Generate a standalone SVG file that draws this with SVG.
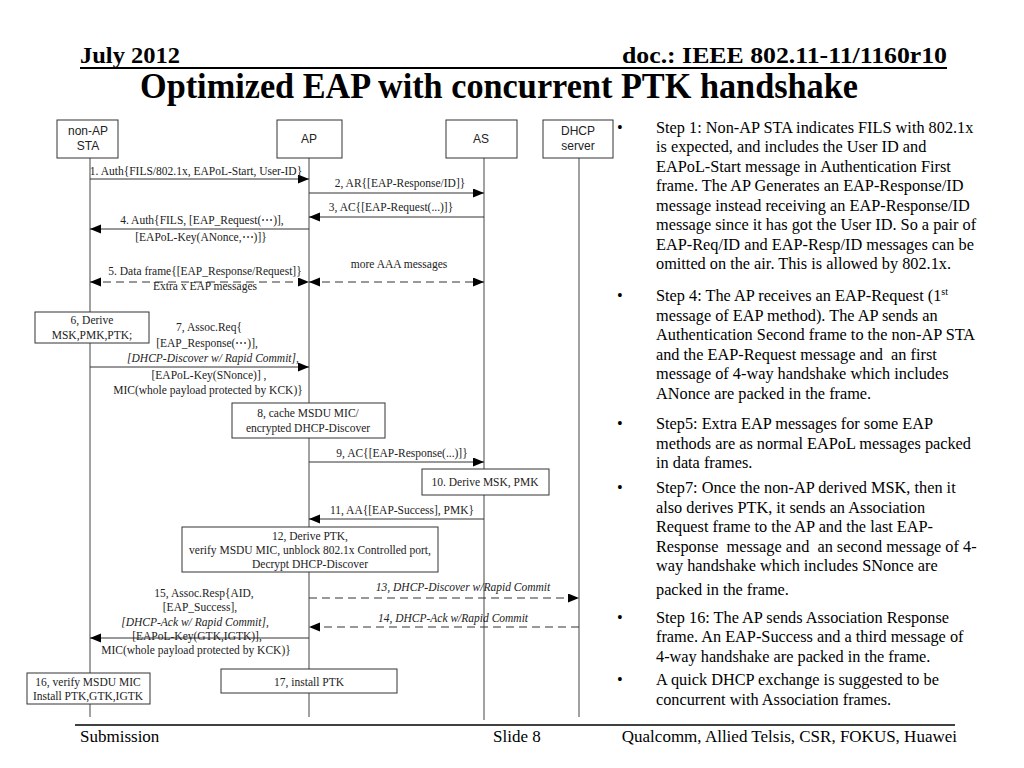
<svg xmlns="http://www.w3.org/2000/svg" width="1024" height="768" viewBox="0 0 1024 768">
<style>
.hd{font-family:"Liberation Serif",serif;font-weight:bold;fill:#000}
.ft{font-family:"Liberation Serif",serif;font-size:17px;fill:#000}
.lbl{font-family:"Liberation Serif",serif;font-size:11.5px;fill:#222;text-anchor:middle}
.it{font-style:italic}
.hdr{font-family:"Liberation Sans",Arial,sans-serif;font-size:12px;fill:#222;text-anchor:middle}
.box{fill:#fff;stroke:#333;stroke-width:1}
.life{stroke:#444;stroke-width:1}
.msg{stroke:#333;stroke-width:1;fill:none}
.dash{stroke-dasharray:8 5}
.body{font-family:"Liberation Serif",serif;font-size:16.3px;fill:#000}
</style>
<defs>
<marker id="ah" markerUnits="userSpaceOnUse" markerWidth="12" markerHeight="10" refX="11" refY="4.5" orient="auto-start-reverse">
<path d="M0,0 L11,4.5 L0,9 z" fill="#000"/>
</marker>
</defs>
<rect width="1024" height="768" fill="#fff"/>

<!-- header -->
<text class="hd" x="80" y="63" font-size="24" textLength="100" lengthAdjust="spacingAndGlyphs">July 2012</text>
<text class="hd" x="947" y="63" font-size="24" text-anchor="end" textLength="325" lengthAdjust="spacingAndGlyphs">doc.: IEEE 802.11-11/1160r10</text>
<line x1="80" y1="68" x2="947" y2="68" stroke="#000" stroke-width="2"/>
<text class="hd" x="140" y="98" font-size="35" textLength="718" lengthAdjust="spacingAndGlyphs">Optimized EAP with concurrent PTK handshake</text>

<!-- lifelines -->
<g id="lifelines">
<line class="life" x1="90" y1="158" x2="90" y2="717"/>
<line class="life" x1="309" y1="158" x2="309" y2="717"/>
<line class="life" x1="484" y1="158" x2="484" y2="720"/>
<line class="life" x1="579" y1="158" x2="579" y2="717"/>
</g>

<g id="sta"><rect class="box" x="57" y="120" width="61" height="38"/><text class="hdr" x="88" y="135">non-AP</text><text class="hdr" x="88" y="150">STA</text></g>
<g id="ap"><rect class="box" x="277" y="120" width="65" height="38"/><text class="hdr" x="309" y="143">AP</text></g>
<g id="as"><rect class="box" x="446" y="120" width="71" height="38"/><text class="hdr" x="481" y="143">AS</text></g>
<g id="dhcp"><rect class="box" x="543" y="120" width="70" height="38"/><text class="hdr" x="578" y="135">DHCP</text><text class="hdr" x="578" y="150">server</text></g>

<!-- connectors -->
<g id="connectors">
<line class="msg" x1="90" y1="179" x2="309" y2="179" marker-end="url(#ah)"/>
<line class="msg" x1="309" y1="193" x2="484" y2="193" marker-end="url(#ah)"/>
<line class="msg" x1="484" y1="217" x2="309" y2="217" marker-end="url(#ah)"/>
<line class="msg" x1="309" y1="229" x2="90" y2="229" marker-end="url(#ah)"/>
<line class="msg dash" x1="90" y1="282" x2="309" y2="282" marker-start="url(#ah)" marker-end="url(#ah)"/>
<line class="msg dash" x1="309" y1="282" x2="484" y2="282" marker-start="url(#ah)" marker-end="url(#ah)"/>
<line class="msg" x1="90" y1="367" x2="309" y2="367" marker-end="url(#ah)"/>
<line class="msg" x1="309" y1="462" x2="484" y2="462" marker-end="url(#ah)"/>
<line class="msg" x1="484" y1="519" x2="309" y2="519" marker-end="url(#ah)"/>
<line class="msg dash" x1="309" y1="598" x2="579" y2="598" marker-end="url(#ah)"/>
<line class="msg dash" x1="579" y1="627" x2="309" y2="627" marker-end="url(#ah)"/>
<line class="msg" x1="309" y1="638" x2="90" y2="638" marker-end="url(#ah)"/>
</g>

<!-- message labels -->
<g id="labels">
<text class="lbl" x="196" y="175">1. Auth{FILS/802.1x, EAPoL-Start, User-ID}</text>
<text class="lbl" x="400" y="187">2, AR{[EAP-Response/ID]}</text>
<text class="lbl" x="391" y="211">3, AC{[EAP-Request(...)]}</text>
<text class="lbl" x="202" y="224">4. Auth{FILS, [EAP_Request(⋯)],</text>
<text class="lbl" x="201" y="241">[EAPoL-Key(ANonce,⋯)]}</text>
<text class="lbl" x="205" y="275">5. Data frame{[EAP_Response/Request]}</text>
<text class="lbl" x="205" y="290">Extra x EAP messages</text>
<text class="lbl" x="399" y="268">more AAA messages</text>
<text class="lbl" x="209" y="331">7, Assoc.Req{</text>
<text class="lbl" x="207" y="347">[EAP_Response(⋯)],</text>
<text class="lbl it" x="213" y="362">[DHCP-Discover w/ Rapid Commit],</text>
<text class="lbl" x="209" y="379">[EAPoL-Key(SNonce)] ,</text>
<text class="lbl" x="208" y="394">MIC(whole payload protected by KCK)}</text>
<text class="lbl" x="402" y="457">9, AC{[EAP-Response(...)]}</text>
<text class="lbl" x="402" y="514">11, AA{[EAP-Success], PMK}</text>
<text class="lbl it" x="463" y="591">13, DHCP-Discover w/Rapid Commit</text>
<text class="lbl it" x="453" y="622">14, DHCP-Ack w/Rapid Commit</text>
<text class="lbl" x="204" y="597">15, Assoc.Resp{AID,</text>
<text class="lbl" x="200" y="611">[EAP_Success],</text>
<text class="lbl it" x="195" y="626">[DHCP-Ack w/ Rapid Commit],</text>
<text class="lbl" x="197" y="640">[EAPoL-Key(GTK,IGTK)],</text>
<text class="lbl" x="196" y="654">MIC(whole payload protected by KCK)}</text>
</g>

<!-- action boxes -->
<g id="n6"><rect class="box" x="35" y="312" width="114" height="31"/><text class="lbl" x="92" y="324">6, Derive</text><text class="lbl" x="92" y="339">MSK,PMK,PTK;</text></g>
<g id="n8"><rect class="box" x="232" y="403" width="153" height="35"/><text class="lbl" x="308" y="417">8, cache MSDU MIC/</text><text class="lbl" x="308" y="432">encrypted DHCP-Discover</text></g>
<g id="n10"><rect class="box" x="422" y="469" width="127" height="26"/><text class="lbl" x="485" y="486">10. Derive MSK, PMK</text></g>
<g id="n12"><rect class="box" x="182" y="527" width="256" height="45"/><text class="lbl" x="310" y="540">12, Derive PTK,</text><text class="lbl" x="310" y="554">verify MSDU MIC, unblock 802.1x Controlled port,</text><text class="lbl" x="310" y="568">Decrypt DHCP-Discover</text></g>
<g id="n16"><rect class="box" x="27" y="673" width="123" height="31"/><text class="lbl" x="88" y="686">16, verify MSDU MIC</text><text class="lbl" x="88" y="700">Install PTK,GTK,IGTK</text></g>
<g id="n17"><rect class="box" x="221" y="669" width="176" height="24"/><text class="lbl" x="309" y="686">17, install PTK</text></g>

<!-- right text -->
<g id="notes" class="body">
<text x="617" y="133">•</text>
<text x="656" y="133">Step 1: Non-AP STA indicates FILS with 802.1x</text>
<text x="656" y="152">is expected, and includes the User ID and</text>
<text x="656" y="172">EAPoL-Start message in Authentication First</text>
<text x="656" y="191">frame. The AP Generates an EAP-Response/ID</text>
<text x="656" y="211">message instead receiving an EAP-Response/ID</text>
<text x="656" y="230">message since it has got the User ID. So a pair of</text>
<text x="656" y="250">EAP-Req/ID and EAP-Resp/ID messages can be</text>
<text x="656" y="269">omitted on the air. This is allowed by 802.1x.</text>
<text x="617" y="301">•</text>
<text x="656" y="301">Step 4: The AP receives an EAP-Request (1<tspan font-size="10" dy="-6">st</tspan></text>
<text x="656" y="321">message of EAP method). The AP sends an</text>
<text x="656" y="340">Authentication Second frame to the non-AP STA</text>
<text x="656" y="360" xml:space="preserve">and the EAP-Request message and  an first</text>
<text x="656" y="379">message of 4-way handshake which includes</text>
<text x="656" y="399">ANonce are packed in the frame.</text>
<text x="617" y="429">•</text>
<text x="656" y="429">Step5: Extra EAP messages for some EAP</text>
<text x="656" y="449">methods are as normal EAPoL messages packed</text>
<text x="656" y="468">in data frames.</text>
<text x="617" y="493">•</text>
<text x="656" y="493">Step7: Once the non-AP derived MSK, then it</text>
<text x="656" y="513">also derives PTK, it sends an Association</text>
<text x="656" y="532">Request frame to the AP and the last EAP-</text>
<text x="656" y="552" xml:space="preserve">Response  message and  an second message of 4-</text>
<text x="656" y="571">way handshake which includes SNonce are</text>
<text x="656" y="595">packed in the frame.</text>
<text x="617" y="623">•</text>
<text x="656" y="623">Step 16: The AP sends Association Response</text>
<text x="656" y="642">frame. An EAP-Success and a third message of</text>
<text x="656" y="662">4-way handshake are packed in the frame.</text>
<text x="617" y="685">•</text>
<text x="656" y="685">A quick DHCP exchange is suggested to be</text>
<text x="656" y="705">concurrent with Association frames.</text>
</g>

<!-- footer -->
<line x1="75" y1="725" x2="955" y2="725" stroke="#000" stroke-width="1.5"/>
<text class="ft" x="80" y="742">Submission</text>
<text class="ft" x="493" y="742">Slide 8</text>
<text class="ft" x="957" y="742" text-anchor="end">Qualcomm, Allied Telsis, CSR, FOKUS, Huawei</text>
</svg>
